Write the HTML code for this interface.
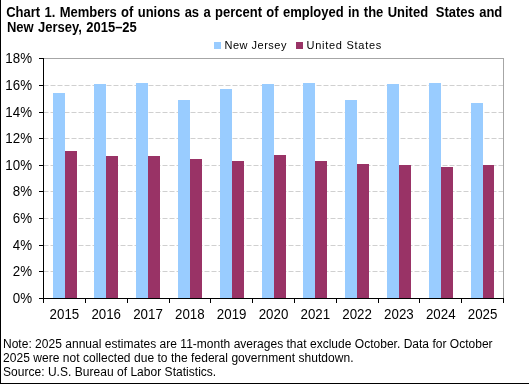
<!DOCTYPE html>
<html><head><meta charset="utf-8"><style>
html,body{margin:0;padding:0;background:#fff;width:529px;height:384px;overflow:hidden}
svg{display:block;will-change:transform}
text{font-family:"Liberation Sans",sans-serif;fill:#000}
.tt{font-weight:bold;font-size:13px;word-spacing:0.75px}
.ax{font-size:13.33px}
.lg{font-size:11px}
.fn{font-size:12px}
</style></head><body>
<svg width="529" height="384" viewBox="0 0 529 384">
<line x1="43.5" y1="271.5" x2="503" y2="271.5" stroke="#d0d0d0" stroke-width="1" stroke-dasharray="5 2"/>
<line x1="43.5" y1="245.5" x2="503" y2="245.5" stroke="#d0d0d0" stroke-width="1" stroke-dasharray="5 2"/>
<line x1="43.5" y1="218.5" x2="503" y2="218.5" stroke="#d0d0d0" stroke-width="1" stroke-dasharray="5 2"/>
<line x1="43.5" y1="191.5" x2="503" y2="191.5" stroke="#d0d0d0" stroke-width="1" stroke-dasharray="5 2"/>
<line x1="43.5" y1="165.5" x2="503" y2="165.5" stroke="#d0d0d0" stroke-width="1" stroke-dasharray="5 2"/>
<line x1="43.5" y1="138.5" x2="503" y2="138.5" stroke="#d0d0d0" stroke-width="1" stroke-dasharray="5 2"/>
<line x1="43.5" y1="112.5" x2="503" y2="112.5" stroke="#d0d0d0" stroke-width="1" stroke-dasharray="5 2"/>
<line x1="43.5" y1="85.5" x2="503" y2="85.5" stroke="#d0d0d0" stroke-width="1" stroke-dasharray="5 2"/>
<rect x="53" y="93" width="12" height="205" fill="#99ccff"/>
<rect x="65" y="151" width="12" height="147" fill="#993366"/>
<rect x="94" y="84" width="12" height="214" fill="#99ccff"/>
<rect x="106" y="156" width="12" height="142" fill="#993366"/>
<rect x="136" y="83" width="12" height="215" fill="#99ccff"/>
<rect x="148" y="156" width="12" height="142" fill="#993366"/>
<rect x="178" y="100" width="12" height="198" fill="#99ccff"/>
<rect x="190" y="159" width="12" height="139" fill="#993366"/>
<rect x="220" y="89" width="12" height="209" fill="#99ccff"/>
<rect x="232" y="161" width="12" height="137" fill="#993366"/>
<rect x="262" y="84" width="12" height="214" fill="#99ccff"/>
<rect x="274" y="155" width="12" height="143" fill="#993366"/>
<rect x="303" y="83" width="12" height="215" fill="#99ccff"/>
<rect x="315" y="161" width="12" height="137" fill="#993366"/>
<rect x="345" y="100" width="12" height="198" fill="#99ccff"/>
<rect x="357" y="164" width="12" height="134" fill="#993366"/>
<rect x="387" y="84" width="12" height="214" fill="#99ccff"/>
<rect x="399" y="165" width="12" height="133" fill="#993366"/>
<rect x="429" y="83" width="12" height="215" fill="#99ccff"/>
<rect x="441" y="167" width="12" height="131" fill="#993366"/>
<rect x="471" y="103" width="12" height="195" fill="#99ccff"/>
<rect x="483" y="165" width="11" height="133" fill="#993366"/>
<line x1="43" y1="58.5" x2="504" y2="58.5" stroke="#a6a6a6" stroke-width="1"/>
<line x1="503.5" y1="58" x2="503.5" y2="298" stroke="#a6a6a6" stroke-width="1"/>
<line x1="43.5" y1="58" x2="43.5" y2="303" stroke="#000" stroke-width="1"/>
<line x1="39" y1="298.5" x2="504" y2="298.5" stroke="#000" stroke-width="1"/>
<line x1="39" y1="298.5" x2="43" y2="298.5" stroke="#000" stroke-width="1"/>
<text x="32" y="303" text-anchor="end" class="ax" transform="matrix(1,0,0,1.1,0,-30.300)">0%</text>
<line x1="39" y1="271.5" x2="43" y2="271.5" stroke="#000" stroke-width="1"/>
<text x="32" y="276" text-anchor="end" class="ax" transform="matrix(1,0,0,1.1,0,-27.600)">2%</text>
<line x1="39" y1="245.5" x2="43" y2="245.5" stroke="#000" stroke-width="1"/>
<text x="32" y="250" text-anchor="end" class="ax" transform="matrix(1,0,0,1.1,0,-25.000)">4%</text>
<line x1="39" y1="218.5" x2="43" y2="218.5" stroke="#000" stroke-width="1"/>
<text x="32" y="223" text-anchor="end" class="ax" transform="matrix(1,0,0,1.1,0,-22.300)">6%</text>
<line x1="39" y1="191.5" x2="43" y2="191.5" stroke="#000" stroke-width="1"/>
<text x="32" y="196" text-anchor="end" class="ax" transform="matrix(1,0,0,1.1,0,-19.600)">8%</text>
<line x1="39" y1="165.5" x2="43" y2="165.5" stroke="#000" stroke-width="1"/>
<text x="32" y="170" text-anchor="end" class="ax" transform="matrix(1,0,0,1.1,0,-17.000)">10%</text>
<line x1="39" y1="138.5" x2="43" y2="138.5" stroke="#000" stroke-width="1"/>
<text x="32" y="143" text-anchor="end" class="ax" transform="matrix(1,0,0,1.1,0,-14.300)">12%</text>
<line x1="39" y1="112.5" x2="43" y2="112.5" stroke="#000" stroke-width="1"/>
<text x="32" y="117" text-anchor="end" class="ax" transform="matrix(1,0,0,1.1,0,-11.700)">14%</text>
<line x1="39" y1="85.5" x2="43" y2="85.5" stroke="#000" stroke-width="1"/>
<text x="32" y="90" text-anchor="end" class="ax" transform="matrix(1,0,0,1.1,0,-9.000)">16%</text>
<line x1="39" y1="58.5" x2="43" y2="58.5" stroke="#000" stroke-width="1"/>
<text x="32" y="63" text-anchor="end" class="ax" transform="matrix(1,0,0,1.1,0,-6.300)">18%</text>
<line x1="43.5" y1="298" x2="43.5" y2="303" stroke="#000" stroke-width="1"/>
<line x1="85.5" y1="298" x2="85.5" y2="303" stroke="#000" stroke-width="1"/>
<line x1="127.5" y1="298" x2="127.5" y2="303" stroke="#000" stroke-width="1"/>
<line x1="169.5" y1="298" x2="169.5" y2="303" stroke="#000" stroke-width="1"/>
<line x1="210.5" y1="298" x2="210.5" y2="303" stroke="#000" stroke-width="1"/>
<line x1="252.5" y1="298" x2="252.5" y2="303" stroke="#000" stroke-width="1"/>
<line x1="294.5" y1="298" x2="294.5" y2="303" stroke="#000" stroke-width="1"/>
<line x1="336.5" y1="298" x2="336.5" y2="303" stroke="#000" stroke-width="1"/>
<line x1="378.5" y1="298" x2="378.5" y2="303" stroke="#000" stroke-width="1"/>
<line x1="419.5" y1="298" x2="419.5" y2="303" stroke="#000" stroke-width="1"/>
<line x1="461.5" y1="298" x2="461.5" y2="303" stroke="#000" stroke-width="1"/>
<line x1="503.5" y1="298" x2="503.5" y2="303" stroke="#000" stroke-width="1"/>
<text x="64.41" y="319" text-anchor="middle" class="ax" transform="matrix(1,0,0,1.1,0,-31.900)">2015</text>
<text x="106.23" y="319" text-anchor="middle" class="ax" transform="matrix(1,0,0,1.1,0,-31.900)">2016</text>
<text x="148.04" y="319" text-anchor="middle" class="ax" transform="matrix(1,0,0,1.1,0,-31.900)">2017</text>
<text x="189.86" y="319" text-anchor="middle" class="ax" transform="matrix(1,0,0,1.1,0,-31.900)">2018</text>
<text x="231.68" y="319" text-anchor="middle" class="ax" transform="matrix(1,0,0,1.1,0,-31.900)">2019</text>
<text x="273.50" y="319" text-anchor="middle" class="ax" transform="matrix(1,0,0,1.1,0,-31.900)">2020</text>
<text x="315.32" y="319" text-anchor="middle" class="ax" transform="matrix(1,0,0,1.1,0,-31.900)">2021</text>
<text x="357.13" y="319" text-anchor="middle" class="ax" transform="matrix(1,0,0,1.1,0,-31.900)">2022</text>
<text x="398.95" y="319" text-anchor="middle" class="ax" transform="matrix(1,0,0,1.1,0,-31.900)">2023</text>
<text x="440.77" y="319" text-anchor="middle" class="ax" transform="matrix(1,0,0,1.1,0,-31.900)">2024</text>
<text x="482.59" y="319" text-anchor="middle" class="ax" transform="matrix(1,0,0,1.1,0,-31.900)">2025</text>
<rect x="214" y="42" width="7" height="7" fill="#99ccff"/>
<text x="224.5" y="48.5" class="lg" letter-spacing="0.5">New Jersey</text>
<rect x="296" y="42" width="7" height="7" fill="#993366"/>
<text x="306.5" y="48.5" class="lg" letter-spacing="0.73">United States</text>
<text x="6.2" y="17" class="tt" transform="matrix(1,0,0,1.1,0,-1.700)">Chart 1. Members of unions as a percent of employed in the United&#160; <tspan dx="-1">States</tspan> and</text>
<text x="7" y="32" class="tt" transform="matrix(1,0,0,1.1,0,-3.200)">New Jersey, 2015–25</text>
<text x="3" y="348" class="fn" textLength="489.6" lengthAdjust="spacing">Note: 2025 annual estimates are 11-month averages that exclude October. Data for October</text>
<text x="3" y="362" class="fn" textLength="350.5" lengthAdjust="spacing">2025 were not collected due to the federal government shutdown.</text>
<text x="3" y="375.5" class="fn" textLength="213.2" lengthAdjust="spacing">Source: U.S. Bureau of Labor Statistics.</text>
<rect x="0" y="0" width="1" height="384" fill="#000"/>
<rect x="0" y="383" width="529" height="1" fill="#000"/>
</svg>
</body></html>
